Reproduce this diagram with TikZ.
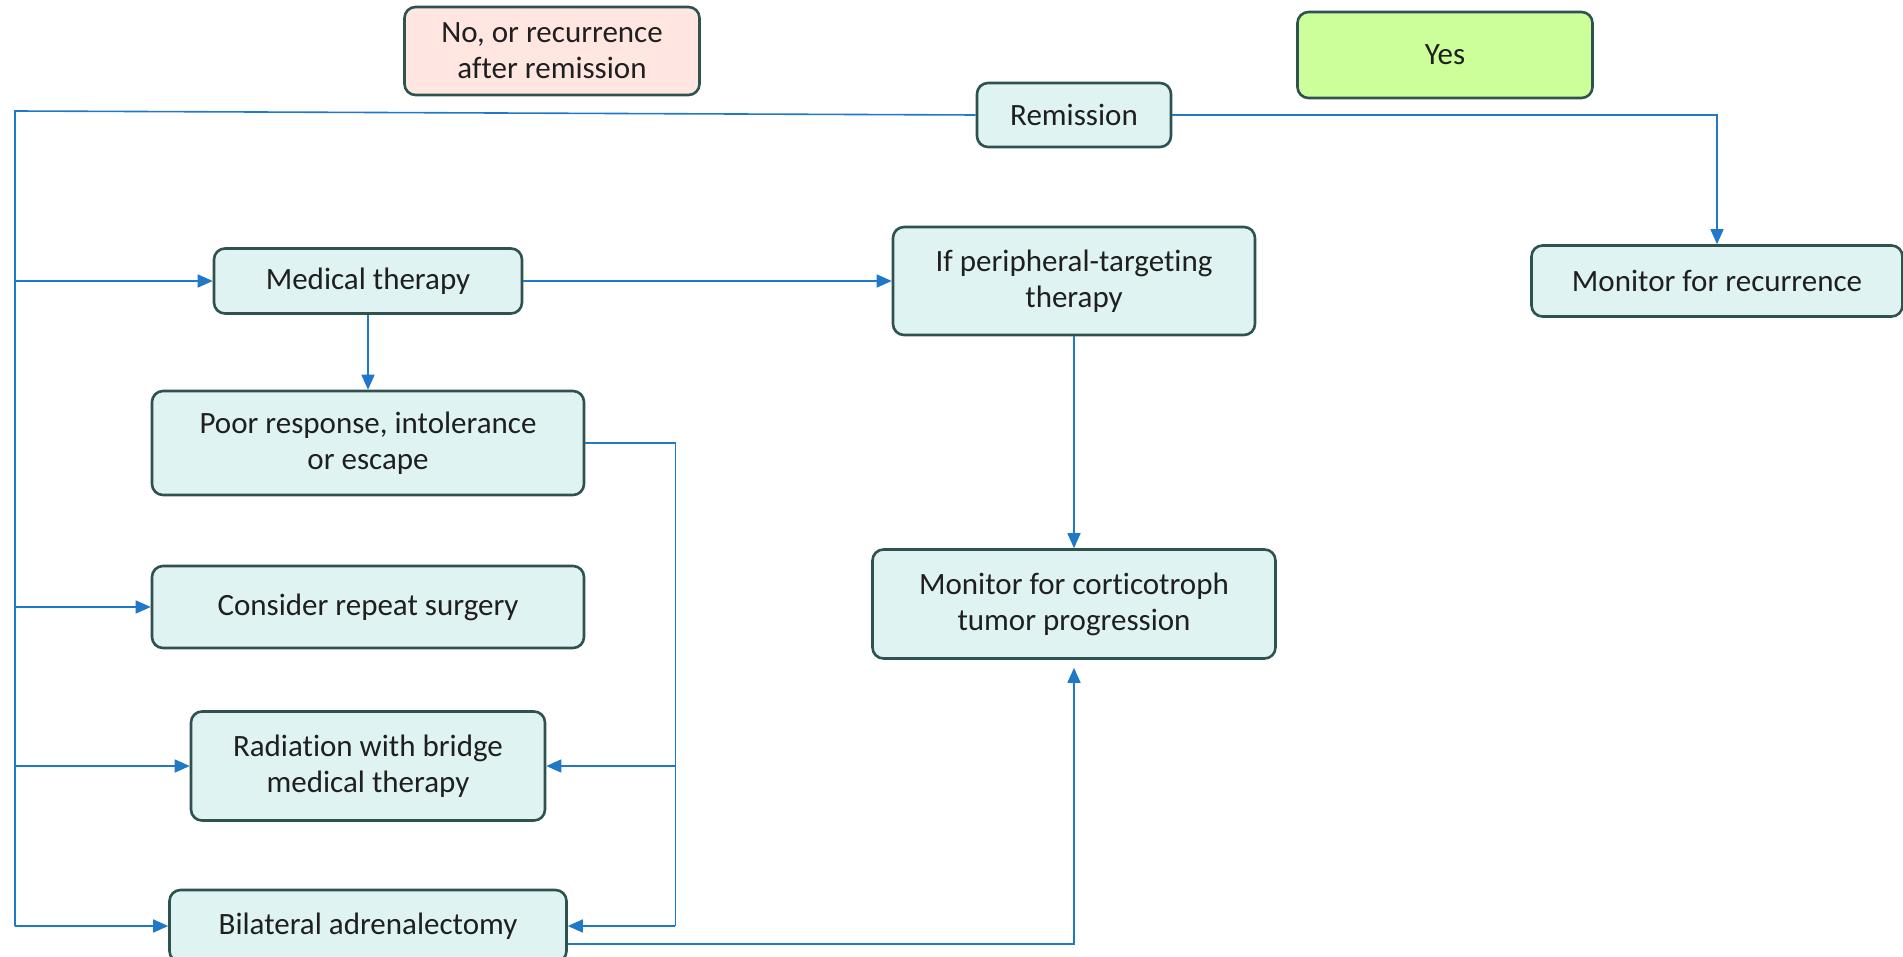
\documentclass[tikz,border=0pt]{standalone}
\usepackage{fontspec}
\setmainfont{Carlito}[Ligatures=NoCommon]
\usepackage{tikz}
\usetikzlibrary{positioning}
\usetikzlibrary{arrows.meta,calc}
\definecolor{boxline}{HTML}{2E524F}
\definecolor{boxfill}{HTML}{DFF4F2}
\definecolor{nofill}{HTML}{FFE6E1}
\definecolor{yesfill}{HTML}{CCFF99}
\definecolor{flowblue}{HTML}{1F78C8}
\tikzstyle{flow box}=[draw=boxline,fill=boxfill,line width=2.6pt,rounded corners=11pt,align=center,text=black!88,font=\fontsize{31}{36}\selectfont,inner sep=0pt]
\tikzstyle{flow line}=[draw=flowblue,line width=1.6pt]
\tikzstyle{flow arrow}=[flow line,-{Triangle[length=15pt,width=13pt]}]
\newcommand{\flownode}[4][]{
  \node [flow box, minimum width=#2, #1] (#3) {#4}
}

\begin{document}
\begin{tikzpicture}[x=1pt,y=-1pt,on grid]
        \useasboundingbox (0,0) rectangle (1903,957);
        \flownode[minimum height=64pt, at={(1074,115)}] {194pt}{remission}{Remission};
        \flownode[minimum height=88pt, fill=nofill, above left=64pt and 522pt of remission]{295pt}{nobox}{No, or recurrence\\after remission};
        \flownode[minimum height=86pt, fill=yesfill, above right=60pt and 371pt of remission]{295pt}{yesbox}{Yes};
        \flownode[minimum height=108pt, below=166pt of remission]{362pt}{periph}{If peripheral-targeting\\therapy};
        \flownode[minimum height=71pt, right=643pt of periph]{371pt}{recur}{Monitor for recurrence};
        \flownode[minimum height=65pt, left=706pt of periph]{308pt}{medical}{Medical therapy};
        \flownode[minimum height=104pt, below=162pt of medical]{432pt}{poor}{Poor response, intolerance\\or escape};
        \flownode[minimum height=82pt, below=164pt of poor]{432pt}{surgery}{Consider repeat surgery};
        \flownode[minimum height=109pt, below=159pt of surgery]{354pt}{radiation}{Radiation with bridge\\medical therapy};
        \flownode[minimum height=72pt, below=160pt of radiation]{397pt}{adrenal}{Bilateral adrenalectomy};
        \flownode[minimum height=109pt, below=323pt of periph]{403pt}{progress}{Monitor for corticotroph\\tumor progression};

        \coordinate (trunk) at (15,111);
        \coordinate (branch) at ($(poor.east)+(90,0)$);

                    \draw[flow line] (remission.west) -- (trunk) -- (trunk |- adrenal.west);
                    \draw[flow arrow] (remission.east) -| (recur.north);

            \draw[flow arrow] (trunk |- medical.west) -- (medical.west);
            \draw[flow arrow] (trunk |- surgery.west) -- (surgery.west);
            \draw[flow arrow] (trunk |- radiation.west) -- (radiation.west);
            \draw[flow arrow] (trunk |- adrenal.west) -- (adrenal.west);

            \draw[flow arrow] (medical) -- (periph);
            \draw[flow arrow] (medical) -- (poor);
            \draw[flow arrow] (periph) -- (progress);

            \draw[flow line] (poor.east) -- (branch) -- (branch |- adrenal.east);
            \draw[flow arrow] (branch |- radiation.east) -- (radiation.east);
            \draw[flow arrow] (branch |- adrenal.east) -- (adrenal.east);

            \draw[flow arrow, shorten >=8pt] ([yshift=-18pt]adrenal.east) -| (progress.south);
        \end{tikzpicture}
\end{document}
